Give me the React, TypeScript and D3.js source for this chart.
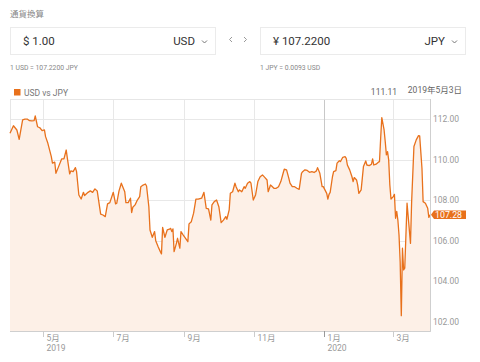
import React, { useEffect, useRef } from 'react';
import * as d3 from 'd3';

const dates = [
  '2019-04-02', '2019-04-05', '2019-04-08', '2019-04-10', '2019-04-13', '2019-04-15', '2019-04-17', '2019-04-19',
  '2019-04-21', '2019-04-23', '2019-04-24', '2019-04-26', '2019-04-28', '2019-04-30', '2019-05-02', '2019-05-03',
  '2019-05-05', '2019-05-08', '2019-05-09', '2019-05-11', '2019-05-12', '2019-05-14', '2019-05-17', '2019-05-19',
  '2019-05-21', '2019-05-22', '2019-05-24', '2019-05-25', '2019-05-27', '2019-05-29', '2019-05-30', '2019-06-01',
  '2019-06-03', '2019-06-05', '2019-06-06', '2019-06-09', '2019-06-11', '2019-06-13', '2019-06-15', '2019-06-17',
  '2019-06-20', '2019-06-22', '2019-06-24', '2019-06-26', '2019-06-28', '2019-07-01', '2019-07-03', '2019-07-04',
  '2019-07-06', '2019-07-08', '2019-07-11', '2019-07-12', '2019-07-14', '2019-07-16', '2019-07-17', '2019-07-18',
  '2019-07-20', '2019-07-22', '2019-07-24', '2019-07-25', '2019-07-27', '2019-07-29', '2019-07-30', '2019-08-01',
  '2019-08-02', '2019-08-04', '2019-08-06', '2019-08-07', '2019-08-09', '2019-08-11', '2019-08-12', '2019-08-13',
  '2019-08-15', '2019-08-17', '2019-08-19', '2019-08-20', '2019-08-21', '2019-08-22', '2019-08-23', '2019-08-25',
  '2019-08-26', '2019-08-28', '2019-08-29', '2019-08-31', '2019-09-02', '2019-09-04', '2019-09-05', '2019-09-07',
  '2019-09-09', '2019-09-11', '2019-09-13', '2019-09-16', '2019-09-18', '2019-09-20', '2019-09-22', '2019-09-24',
  '2019-09-25', '2019-09-27', '2019-09-29', '2019-10-01', '2019-10-03', '2019-10-05', '2019-10-07', '2019-10-08',
  '2019-10-10', '2019-10-11', '2019-10-13', '2019-10-15', '2019-10-16', '2019-10-18', '2019-10-19', '2019-10-21',
  '2019-10-23', '2019-10-24', '2019-10-26', '2019-10-28', '2019-10-29', '2019-10-31', '2019-11-02', '2019-11-04',
  '2019-11-06', '2019-11-08', '2019-11-10', '2019-11-12', '2019-11-13', '2019-11-15', '2019-11-16', '2019-11-18',
  '2019-11-20', '2019-11-22', '2019-11-24', '2019-11-26', '2019-11-27', '2019-11-29', '2019-12-01', '2019-12-02',
  '2019-12-04', '2019-12-06', '2019-12-08', '2019-12-10', '2019-12-12', '2019-12-13', '2019-12-15', '2019-12-17',
  '2019-12-19', '2019-12-21', '2019-12-23', '2019-12-25', '2019-12-26', '2019-12-28', '2019-12-30', '2019-12-31',
  '2020-01-03', '2020-01-04', '2020-01-05', '2020-01-06', '2020-01-08', '2020-01-09', '2020-01-11', '2020-01-12',
  '2020-01-14', '2020-01-15', '2020-01-17', '2020-01-19', '2020-01-20', '2020-01-21', '2020-01-23', '2020-01-25',
  '2020-01-26', '2020-01-27', '2020-01-29', '2020-01-30', '2020-01-31', '2020-02-02', '2020-02-03', '2020-02-04',
  '2020-02-06', '2020-02-07', '2020-02-09', '2020-02-11', '2020-02-12', '2020-02-13', '2020-02-15', '2020-02-17',
  '2020-02-18', '2020-02-19', '2020-02-20', '2020-02-22', '2020-02-23', '2020-02-24', '2020-02-25', '2020-02-26',
  '2020-02-27', '2020-02-28', '2020-03-01', '2020-03-02', '2020-03-03', '2020-03-04', '2020-03-05', '2020-03-06',
  '2020-03-07', '2020-03-08', '2020-03-09', '2020-03-10', '2020-03-11', '2020-03-13', '2020-03-14', '2020-03-16',
  '2020-03-17', '2020-03-19', '2020-03-21', '2020-03-23', '2020-03-24', '2020-03-26', '2020-03-27', '2020-03-29',
  '2020-03-31', '2020-04-01', '2020-04-02',
];

const rates = [
  111.31, 111.68, 111.47, 111.01, 111.97, 112.01, 112.01, 111.93,
  111.92, 111.93, 112.16, 111.63, 111.58, 111.44, 111.47, 111.14,
  110.81, 110.15, 109.83, 109.88, 109.33, 109.61, 110.04, 110.04,
  110.48, 110.07, 109.30, 109.45, 109.41, 109.61, 109.41, 108.26,
  108.06, 108.39, 108.23, 108.39, 108.46, 108.39, 108.56, 108.46,
  107.31, 107.27, 107.19, 107.82, 107.88, 108.39, 107.82, 107.85,
  108.46, 108.84, 108.42, 107.88, 107.88, 108.10, 107.39, 107.65,
  107.77, 108.01, 108.18, 108.67, 108.75, 108.80, 108.70, 107.68,
  106.53, 106.17, 106.45, 106.00, 105.71, 105.46, 105.35, 106.66,
  106.17, 106.53, 106.57, 106.61, 106.45, 106.58, 105.46, 105.87,
  106.12, 105.63, 106.45, 106.28, 106.12, 105.95, 106.83, 106.94,
  107.36, 108.05, 108.05, 108.10, 108.39, 107.60, 107.57, 107.02,
  107.77, 107.93, 108.01, 107.68, 106.89, 107.02, 107.19, 107.06,
  107.52, 108.34, 108.42, 108.84, 108.67, 108.42, 108.51, 108.42,
  108.67, 108.59, 108.84, 108.92, 108.84, 108.01, 108.26, 108.92,
  109.16, 109.25, 109.13, 109.00, 108.42, 108.75, 108.70, 108.59,
  108.59, 108.67, 108.92, 109.33, 109.53, 109.50, 109.08, 108.84,
  108.67, 108.67, 108.59, 108.54, 109.33, 109.41, 109.50, 109.47,
  109.38, 109.41, 109.37, 109.45, 109.61, 109.33, 108.67, 108.67,
  108.34, 108.06, 108.29, 108.39, 109.16, 109.41, 109.46, 109.83,
  109.95, 109.91, 110.12, 110.15, 110.07, 109.74, 109.50, 109.16,
  108.92, 109.12, 109.00, 108.75, 108.34, 108.51, 109.08, 109.66,
  109.94, 109.74, 109.71, 109.78, 110.04, 109.74, 109.78, 109.88,
  109.91, 111.06, 112.08, 111.47, 110.89, 110.24, 110.40, 109.99,
  108.75, 108.06, 108.18, 108.29, 107.11, 107.45, 107.02, 106.28,
  104.96, 102.30, 105.63, 104.56, 104.64, 107.85, 107.19, 105.87,
  107.93, 110.65, 110.98, 111.19, 111.18, 109.58, 107.93, 107.85,
  107.60, 107.15, 107.28,
];

const yTicks = [102, 104, 106, 108, 110, 112];
const monthTicks = ['2019-05-01', '2019-07-01', '2019-09-01', '2019-11-01', '2020-01-01', '2020-03-01'];
const monthLabels = ['5月', '7月', '9月', '11月', '1月', '3月'];
const yearLabels = ['2019', '', '', '', '2020', ''];

const FONT = "Roboto, 'Noto Sans CJK JP', sans-serif";
const ORANGE = '#e8711c';

export default function App() {
  const svgRef = useRef<SVGSVGElement>(null);

  useEffect(() => {
    if (!svgRef.current) return;
    const svg = d3.select(svgRef.current);
    svg.selectAll('*').remove();

    const parse = d3.timeParse('%Y-%m-%d');
    const data = dates.map((d, i) => ({ date: parse(d) as Date, v: rates[i] }));

    const left = 10, right = 430, top = 99, bottom = 331;

    const x = d3.scaleTime()
      .domain([parse('2019-04-02') as Date, parse('2020-04-02') as Date])
      .range([left, right]);
    const y = d3.scaleLinear().domain([101.54, 113.0]).range([bottom, top]);

    // header + converter boxes
    svg.append('text').attr('x', 10).attr('y', 17).attr('font-size', 8.5)
      .attr('fill', '#888').attr('font-family', FONT).text('通貨換算');

    const boxes = [
      { x: 10, amount: '$ 1.00', cur: 'USD', note: '1 USD = 107.2200 JPY' },
      { x: 260, amount: '¥ 107.2200', cur: 'JPY', note: '1 JPY = 0.0093 USD' },
    ];
    boxes.forEach(b => {
      svg.append('rect').attr('x', b.x + 0.5).attr('y', 27.5).attr('width', 205).attr('height', 27)
        .attr('fill', '#fff').attr('stroke', '#ebebeb');
      svg.append('text').attr('x', b.x + 13).attr('y', 45).attr('font-size', 11.5)
        .attr('fill', '#333').attr('font-family', FONT).text(b.amount);
      svg.append('text').attr('x', b.x + 185).attr('y', 45).attr('font-size', 11.5)
        .attr('text-anchor', 'end').attr('fill', '#333').attr('font-family', FONT).text(b.cur);
      svg.append('path').attr('d', `M${b.x + 192},40.5 l2.5,2.5 l2.5,-2.5`)
        .attr('fill', 'none').attr('stroke', '#777').attr('stroke-width', 1);
      svg.append('text').attr('x', b.x).attr('y', 70).attr('font-size', 6.8)
        .attr('fill', '#888').attr('font-family', FONT).text(b.note);
    });
    svg.append('path').attr('d', 'M232,37 l-2.5,2.5 l2.5,2.5 M244,37 l2.5,2.5 l-2.5,2.5')
      .attr('fill', 'none').attr('stroke', '#999').attr('stroke-width', 1);

    // legend + hover info
    svg.append('rect').attr('x', 14).attr('y', 89).attr('width', 6.5).attr('height', 6.5).attr('fill', ORANGE);
    svg.append('text').attr('x', 24).attr('y', 95.5).attr('font-size', 8.5)
      .attr('fill', '#777').attr('font-family', FONT).text('USD vs JPY');
    svg.append('text').attr('x', 397).attr('y', 95).attr('font-size', 8.5).attr('text-anchor', 'end')
      .attr('fill', '#666').attr('font-family', FONT).text('111.11');
    svg.append('text').attr('x', 462).attr('y', 93).attr('font-size', 8.5).attr('text-anchor', 'end')
      .attr('fill', '#666').attr('font-family', FONT).text('2019年5月3日');

    // grid
    const grid = svg.append('g');
    grid.selectAll('line.h').data(yTicks).join('line')
      .attr('x1', left).attr('x2', right)
      .attr('y1', d => Math.round(y(d)) + 0.5).attr('y2', d => Math.round(y(d)) + 0.5)
      .attr('stroke', '#e8e8e8');
    grid.selectAll('line.v').data(monthTicks).join('line')
      .attr('x1', d => Math.round(x(parse(d) as Date)) + 0.5).attr('x2', d => Math.round(x(parse(d) as Date)) + 0.5)
      .attr('y1', top).attr('y2', bottom)
      .attr('stroke', (d, i) => (monthLabels[i] === '1月' ? '#c8c8c8' : '#e8e8e8'));
    grid.append('rect').attr('x', left + 0.5).attr('y', top + 0.5)
      .attr('width', right - left).attr('height', bottom - top)
      .attr('fill', 'none').attr('stroke', '#e6e6e6');

    // area + line
    const area = d3.area<{ date: Date; v: number }>()
      .x(d => x(d.date)).y0(bottom).y1(d => y(d.v));
    const line = d3.line<{ date: Date; v: number }>()
      .x(d => x(d.date)).y(d => y(d.v));
    svg.append('path').datum(data).attr('d', area).attr('fill', '#fdf0e7');
    svg.append('path').datum(data).attr('d', line)
      .attr('fill', 'none').attr('stroke', ORANGE).attr('stroke-width', 1.3).attr('stroke-linejoin', 'round');

    // axes lines
    svg.append('line').attr('x1', left).attr('x2', right + 0.5).attr('y1', bottom + 0.5).attr('y2', bottom + 0.5)
      .attr('stroke', '#cfcfcf');
    svg.append('line').attr('x1', right + 0.5).attr('x2', right + 0.5).attr('y1', top).attr('y2', bottom + 0.5)
      .attr('stroke', '#cfcfcf');

    // x ticks & labels
    const xa = svg.append('g').attr('font-family', FONT).attr('font-size', 8.5).attr('fill', '#999');
    monthTicks.forEach((m, i) => {
      const px = Math.round(x(parse(m) as Date)) + 0.5;
      xa.append('line').attr('x1', px).attr('x2', px).attr('y1', bottom).attr('y2', bottom + 6)
        .attr('stroke', monthLabels[i] === '1月' ? '#999' : '#ccc');
      xa.append('text').attr('x', px + 3).attr('y', bottom + 10).text(monthLabels[i]);
      if (yearLabels[i]) xa.append('text').attr('x', px + 3).attr('y', bottom + 19.5).text(yearLabels[i]);
    });

    // y labels
    svg.append('g').selectAll('text').data(yTicks).join('text')
      .attr('x', right + 3).attr('y', d => y(d) + 3)
      .attr('font-size', 8.5).attr('font-family', FONT).attr('fill', '#999')
      .text(d => d.toFixed(2));

    // last value tag
    const last = data[data.length - 1];
    const ty = y(last.v);
    svg.append('path')
      .attr('d', `M${right + 1},${ty} L${right + 4},${ty - 4.3} H466 V${ty + 4.3} H${right + 4} Z`)
      .attr('fill', ORANGE);
    svg.append('text').attr('x', right + 5).attr('y', ty + 3.2).attr('font-size', 8.8)
      .attr('font-family', FONT).attr('fill', '#fff').text(last.v.toFixed(2));
  }, []);

  return (
    <svg ref={svgRef} width={480} height={362}
      style={{ position: 'absolute', left: 0, top: 0, background: '#fff' }} />
  );
}
